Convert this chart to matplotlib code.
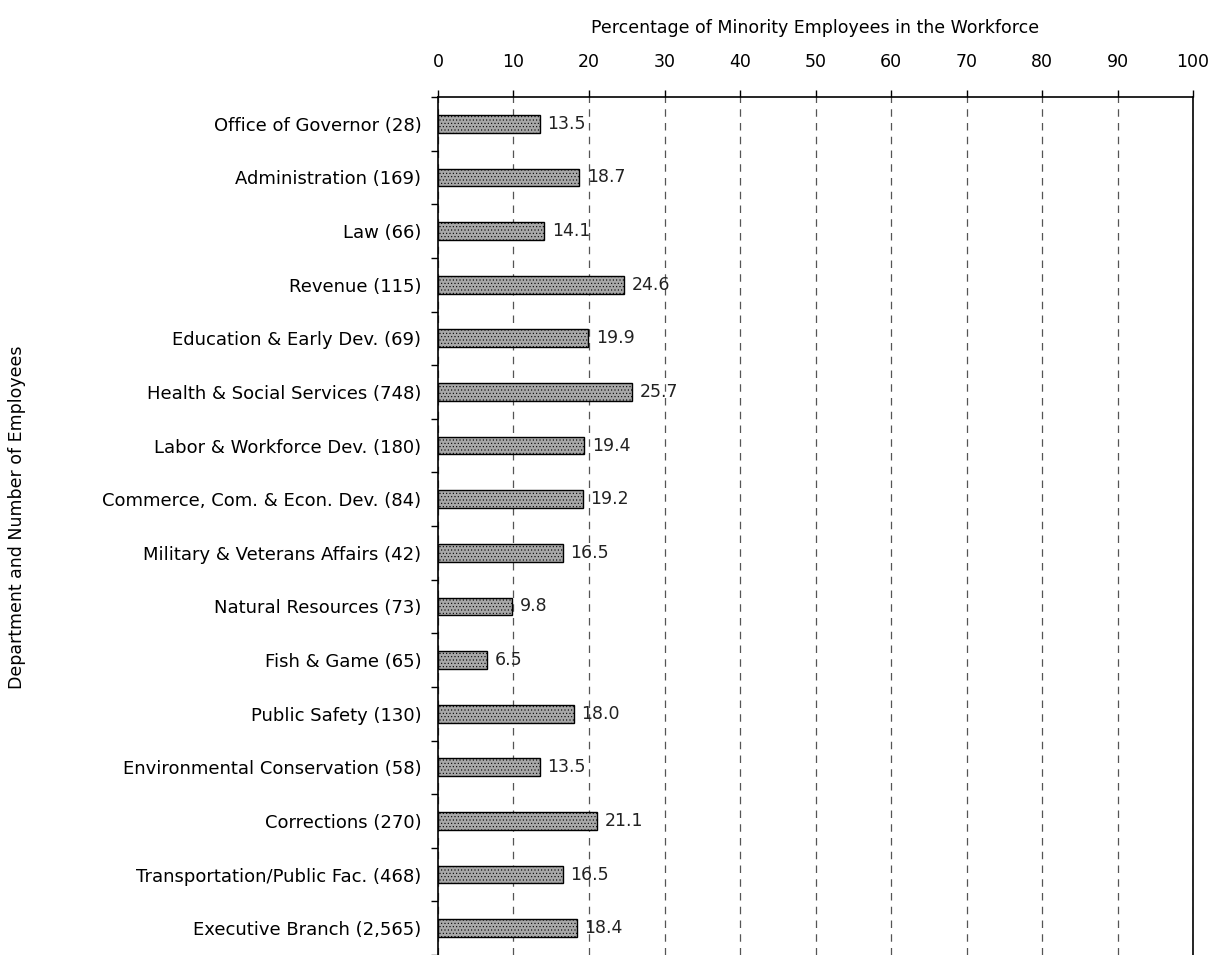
import numpy as np
import matplotlib.pyplot as plt

plt.rcParams['font.family'] = ['DejaVu Sans']

# Departments (number of employees) and percentage of minority employees
departments = ['Office of Governor (28)', 'Administration (169)', 'Law (66)',
               'Revenue (115)', 'Education & Early Dev. (69)',
               'Health & Social Services (748)', 'Labor & Workforce Dev. (180)',
               'Commerce, Com. & Econ. Dev. (84)', 'Military & Veterans Affairs (42)',
               'Natural Resources (73)', 'Fish & Game (65)', 'Public Safety (130)',
               'Environmental Conservation (58)', 'Corrections (270)',
               'Transportation/Public Fac. (468)', 'Executive Branch (2,565)']
percent = [13.5, 18.7, 14.1, 24.6, 19.9, 25.7, 19.4, 19.2, 16.5, 9.8, 6.5,
           18.0, 13.5, 21.1, 16.5, 18.4]
xticks = [0, 10, 20, 30, 40, 50, 60, 70, 80, 90, 100]

fig = plt.figure(figsize=(12.19, 9.55), dpi=100)
ax = fig.add_axes([0.3593, 0.0, 0.6194, 0.8984])

y = np.arange(len(departments))
plt.rcParams['hatch.color'] = '#8a8a8a'
plt.rcParams['hatch.linewidth'] = 0.4
ax.barh(y, percent, height=0.33, color='#a8a8a8', edgecolor='black',
        linewidth=1.0, hatch='.....', zorder=3)

for yi, v in zip(y, percent):
    ax.text(v + 1.0, yi, f'{v:.1f}', va='center', ha='left', fontsize=12.5,
            color='#222222', zorder=4)

ax.set_xlim(0, 100)
ax.set_ylim(len(departments) - 0.5, -0.5)

ax.xaxis.tick_top()
ax.xaxis.set_label_position('top')
ax.set_xticks(xticks)
ax.tick_params(axis='x', direction='out', length=5, labelsize=12.5, pad=14,
               width=1.0)
ax.set_xlabel('Percentage of Minority Employees in the Workforce',
              fontsize=12.5, labelpad=14)

ax.set_yticks(y)
ax.set_yticklabels(departments, fontsize=13)
ax.tick_params(axis='y', which='major', length=0, pad=12)
ax.set_yticks(np.arange(-0.5, len(departments), 1), minor=True)
ax.tick_params(axis='y', which='minor', direction='out', length=5, width=1.0)
ax.set_ylabel('Department and Number of Employees', fontsize=12.5)
ax.yaxis.set_label_coords(-0.545, 0.51)

ax.grid(axis='x', linestyle=(0, (6, 5)), color='#555555', linewidth=0.9,
        zorder=0)
for s in ['top', 'left', 'right']:
    ax.spines[s].set_linewidth(1.2)
ax.spines['bottom'].set_visible(False)

fig.savefig('out.png', dpi=100, facecolor='white')
